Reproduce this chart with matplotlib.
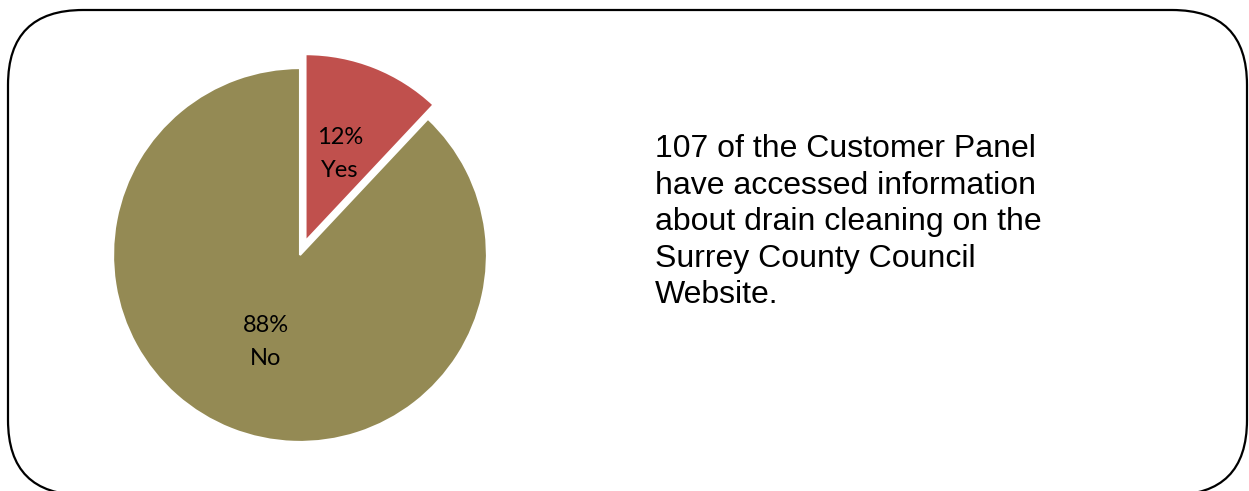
import matplotlib.pyplot as plt
from matplotlib.patches import FancyBboxPatch

# datos del grafico
categorias = ["Yes", "No"]
porcentajes = [12, 88]
colores = ["#C0504D", "#948A54"]
texto = ("107 of the Customer Panel\n"
         "have accessed information\n"
         "about drain cleaning on the\n"
         "Surrey County Council\n"
         "Website.")

fig = plt.figure(figsize=(12.49, 4.91), dpi=100)

# capa de fondo en pixeles para el marco redondeado
fondo = fig.add_axes([0, 0, 1, 1])
fondo.set_xlim(0, 1249)
fondo.set_ylim(0, 491)
fondo.axis("off")
marco = FancyBboxPatch((8, -4), 1239, 485,
                       boxstyle="round,pad=0,rounding_size=75",
                       facecolor="white", edgecolor="black", linewidth=1.6)
fondo.add_patch(marco)

# grafico de torta
ax = fig.add_axes([100 / 1249, 36 / 491, 400 / 1249, 400 / 491])
etiquetas = [f"{p}%\n{c}" for p, c in zip(porcentajes, categorias)]
wedges, textos = ax.pie(porcentajes, labels=etiquetas, colors=colores,
                        startangle=90, counterclock=False,
                        explode=[0.08, 0], labeldistance=0.5,
                        wedgeprops=dict(edgecolor="white", linewidth=1.5),
                        textprops=dict(ha="center", va="center",
                                       fontsize=17, family="Lato",
                                       linespacing=1.72))
ax.set_xlim(-1.07, 1.07)
ax.set_ylim(-1.07, 1.07)
ax.set_aspect("equal")

fig.text(655 / 1249, 1 - 134 / 491, texto, ha="left", va="top",
         fontsize=23, family="Liberation Sans", linespacing=1.285)

plt.savefig("out.png", dpi=100)
